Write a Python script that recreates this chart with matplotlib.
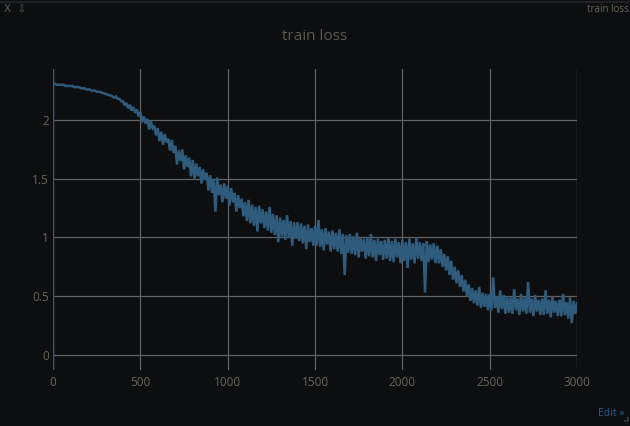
import numpy as np
import matplotlib
matplotlib.use("Agg")
import matplotlib.pyplot as plt

# ---- data (one value every 10 steps) ----
steps = np.arange(0, 3001, 10)
loss = [
    2.31, 2.31, 2.30, 2.30, 2.30, 2.30, 2.30, 2.29, 2.29, 2.29,
    2.29, 2.29, 2.28, 2.28, 2.28, 2.28, 2.27, 2.27, 2.27, 2.26,
    2.26, 2.26, 2.25, 2.25, 2.25, 2.24, 2.24, 2.24, 2.23, 2.23,
    2.22, 2.22, 2.21, 2.21, 2.20, 2.19, 2.20, 2.18, 2.18, 2.16,
    2.16, 2.13, 2.14, 2.10, 2.13, 2.08, 2.11, 2.06, 2.09, 2.03,
    2.07, 1.98, 2.03, 1.97, 2.01, 1.92, 1.99, 1.93, 1.95, 1.87,
    1.93, 1.82, 1.90, 1.79, 1.88, 1.81, 1.84, 1.74, 1.83, 1.72,
    1.78, 1.62, 1.74, 1.65, 1.75, 1.58, 1.70, 1.60, 1.68, 1.52,
    1.66, 1.50, 1.63, 1.52, 1.60, 1.46, 1.58, 1.49, 1.55, 1.40,
    1.53, 1.38, 1.50, 1.22, 1.51, 1.36, 1.45, 1.30, 1.46, 1.33,
    1.44, 1.27, 1.42, 1.30, 1.38, 1.22, 1.36, 1.25, 1.33, 1.18,
    1.30, 1.14, 1.32, 1.12, 1.28, 1.10, 1.26, 1.05, 1.27, 1.12,
    1.24, 1.08, 1.22, 1.06, 1.26, 1.04, 1.20, 1.02, 1.19, 0.96,
    1.17, 1.01, 1.15, 0.98, 1.19, 1.00, 1.14, 0.93, 1.13, 0.99,
    1.13, 0.97, 1.12, 0.95, 1.10, 0.90, 1.11, 0.96, 1.08, 0.93,
    1.10, 0.93, 1.15, 0.92, 1.07, 0.89, 1.08, 0.94, 1.05, 0.88,
    1.06, 0.90, 1.04, 0.88, 1.07, 0.86, 1.03, 0.68, 1.02, 0.87,
    1.03, 0.86, 1.01, 0.85, 1.04, 0.83, 1.00, 0.88, 0.99, 0.82,
    1.00, 0.84, 1.03, 0.83, 0.98, 0.80, 0.99, 0.85, 0.97, 0.81,
    0.98, 0.82, 1.00, 0.80, 0.97, 0.79, 0.99, 0.83, 0.96, 0.78,
    0.98, 0.80, 0.96, 0.74, 0.99, 0.81, 0.95, 0.78, 1.00, 0.82,
    0.96, 0.80, 0.95, 0.53, 0.97, 0.79, 0.94, 0.81, 0.95, 0.78,
    0.93, 0.78, 0.90, 0.75, 0.86, 0.72, 0.84, 0.68, 0.80, 0.64,
    0.75, 0.61, 0.72, 0.58, 0.68, 0.54, 0.64, 0.50, 0.60, 0.46,
    0.57, 0.44, 0.55, 0.42, 0.58, 0.40, 0.53, 0.41, 0.52, 0.38,
    0.52, 0.38, 0.66, 0.40, 0.50, 0.36, 0.55, 0.39, 0.51, 0.35,
    0.50, 0.36, 0.49, 0.35, 0.56, 0.38, 0.48, 0.34, 0.52, 0.37,
    0.49, 0.35, 0.62, 0.36, 0.48, 0.33, 0.51, 0.37, 0.47, 0.34,
    0.48, 0.34, 0.55, 0.35, 0.47, 0.32, 0.50, 0.36, 0.46, 0.33,
    0.47, 0.33, 0.52, 0.34, 0.45, 0.31, 0.49, 0.27, 0.46, 0.35,
    0.44,
]
x_ticks = [0, 500, 1000, 1500, 2000, 2500, 3000]
y_ticks = [0, 0.5, 1, 1.5, 2]
y_tick_labels = ["0", "0.5", "1", "1.5", "2"]
title = "train loss"

# ---- style ----
BG = "#0c0e10"
LINE = "#2f5b7c"
GRID = "#626262"
TICK = "#67675a"
TITLE = "#5a5a4e"

plt.rcParams["font.family"] = ["Open Sans", "DejaVu Sans"]

fig = plt.figure(figsize=(6.3, 4.26), dpi=100, facecolor=BG)
ax = fig.add_axes([53 / 630, 1 - 370 / 426, 524 / 630, 301 / 426])
ax.set_facecolor(BG)

ax.plot(steps, loss, color=LINE, lw=1.8, solid_joinstyle="miter", zorder=3)
ax.axvline(0, color=LINE, lw=1.0, zorder=2)

ax.set_xlim(0, 3000)
ax.set_ylim(-0.128, 2.434)
ax.set_xticks(x_ticks)
ax.set_xticklabels([str(v) for v in x_ticks])
ax.set_yticks(y_ticks)
ax.set_yticklabels(y_tick_labels)
ax.grid(True, color=GRID, lw=0.9)
ax.set_axisbelow(True)
for s in ax.spines.values():
    s.set_visible(False)
ax.tick_params(length=0, colors=TICK, labelsize=8.5)
ax.tick_params(axis="x", pad=4)
ax.tick_params(axis="y", pad=3)

fig.text(0.5, 1 - 37 / 426, title, ha="center", va="center", color=TITLE, fontsize=11)
fig.text(4 / 630, 1 - 8 / 426, "X  \u21e9", ha="left", va="center", color="#5e5e52", fontsize=7.5,
         family=["DejaVu Sans"])
fig.text(629 / 630, 1 - 10 / 426, "train loss", ha="right", va="center", color="#66665a", fontsize=7)
fig.text(624 / 630, 1 - 413 / 426, "Edit \u00bb", ha="right", va="center", color="#2b5c93", fontsize=7.5)
fig.add_artist(plt.Line2D([625 / 630, 628 / 630, 628 / 630], [1 - 421 / 426, 1 - 421 / 426, 1 - 418 / 426],
                          color="#3a3a3a", lw=1.2, transform=fig.transFigure))
fig.add_artist(plt.Line2D([0, 1], [1 - 1.5 / 426, 1 - 1.5 / 426], color="#24272a", lw=1.2,
                          transform=fig.transFigure))

fig.savefig("out.png", dpi=100, facecolor=BG)
